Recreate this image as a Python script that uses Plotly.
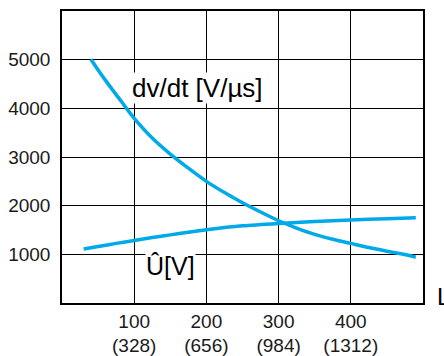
import plotly.graph_objects as go

# Data
dvdt_x = [40, 50, 60, 70, 80, 90, 100, 125, 150, 175, 200, 225, 250, 275, 300, 325, 350, 375, 400, 425, 450, 475, 490]
dvdt_y = [5010, 4790, 4580, 4380, 4185, 3985, 3795, 3390, 3060, 2770, 2500, 2270, 2060, 1870, 1690, 1540, 1410, 1310, 1225, 1140, 1065, 995, 940]

u_x = [30, 50, 75, 100, 125, 150, 175, 200, 250, 300, 350, 400, 450, 490]
u_y = [1110, 1160, 1225, 1285, 1345, 1400, 1455, 1505, 1585, 1635, 1675, 1705, 1732, 1752]

x_tick_vals = [100, 200, 300, 400]
x_tick_text = ["100<br>(328)", "200<br>(656)", "300<br>(984)", "400<br>(1312)"]
y_tick_vals = [1000, 2000, 3000, 4000, 5000]
y_tick_text = ["1000", "2000", "3000", "4000", "5000"]

LINE = "#00A9E8"
TXT = "#1a1a1a"
FONT = "Liberation Sans, Arial, sans-serif"

fig = go.Figure()
fig.add_trace(go.Scatter(x=dvdt_x, y=dvdt_y, mode="lines", line=dict(color=LINE, width=3.5, shape="spline", smoothing=0.8), showlegend=False))
fig.add_trace(go.Scatter(x=u_x, y=u_y, mode="lines", line=dict(color=LINE, width=3.5, shape="spline", smoothing=0.8), showlegend=False))

fig.add_annotation(x=95, y=4420, xref="x", yref="y", text="dv/dt [V/µs]", showarrow=False,
                   xanchor="left", yanchor="middle", bgcolor="white", borderpad=0,
                   font=dict(family=FONT, size=26, color="black"))
fig.add_annotation(x=115, y=760, xref="x", yref="y", text="Û[V]", showarrow=False,
                   xanchor="left", yanchor="middle", bgcolor="white", borderpad=0,
                   font=dict(family=FONT, size=25, color="black"))
fig.add_annotation(x=1.036, y=0, xref="paper", yref="paper", text="L", showarrow=False,
                   xanchor="left", yanchor="bottom", yshift=-8, borderpad=0,
                   font=dict(family=FONT, size=24, color="black"))

fig.update_xaxes(range=[0, 500], tickvals=x_tick_vals, ticktext=x_tick_text,
                 showgrid=True, gridcolor="black", gridwidth=1.3,
                 showline=True, linecolor="black", linewidth=1.5, mirror=True,
                 ticks="", zeroline=False, automargin=False,
                 tickfont=dict(family=FONT, size=19, color=TXT))
fig.update_yaxes(range=[0, 6000], tickvals=y_tick_vals, ticktext=y_tick_text,
                 showgrid=True, gridcolor="black", gridwidth=1.3,
                 showline=True, linecolor="black", linewidth=1.5, mirror=True,
                 ticks="", zeroline=False, ticklabelstandoff=6, automargin=False,
                 tickfont=dict(family=FONT, size=19, color=TXT))

fig.update_layout(width=444, height=356, margin=dict(l=62, r=21, t=11, b=53),
                  paper_bgcolor="white", plot_bgcolor="white", showlegend=False)

fig.write_html("out.html", config={"displayModeBar": False},
               post_script="document.body.style.margin='0';")
